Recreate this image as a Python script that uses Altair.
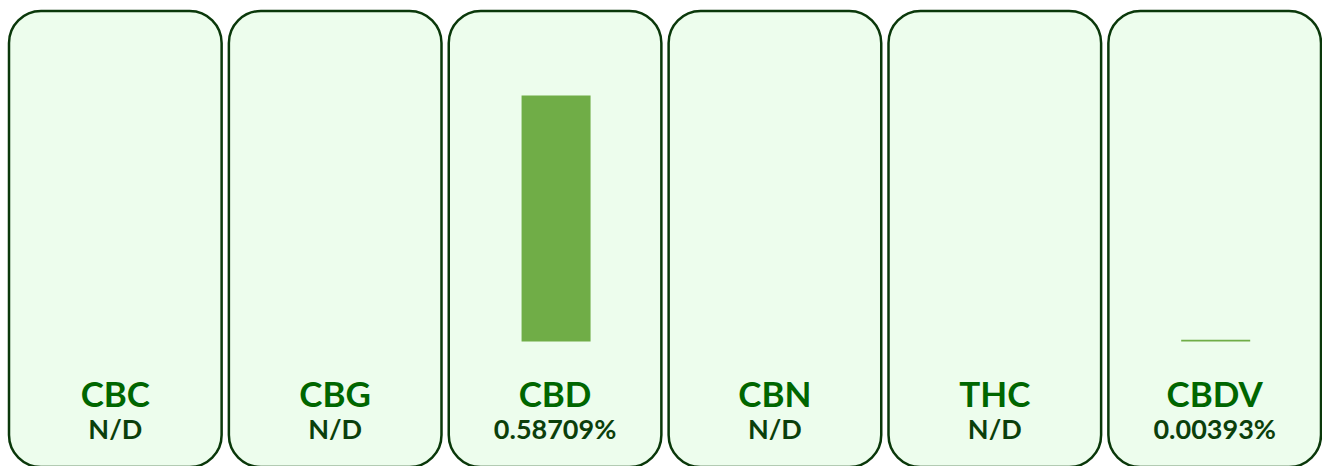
import altair as alt
import pandas as pd

names = ["CBC", "CBG", "CBD", "CBN", "THC", "CBDV"]
values = [None, None, 0.58709, None, None, 0.00393]
value_labels = ["N/D", "N/D", "0.58709%", "N/D", "N/D", "0.00393%"]

df = pd.DataFrame({"name": names, "value": values, "label": value_labels})

FONT = "Lato"

x = alt.X(
    "name:N",
    sort=names,
    axis=None,
    scale=alt.Scale(range=[9, 1321], paddingInner=0.033, paddingOuter=0),
)
yscale = alt.Scale(domain=[-0.2971, 0.8150], nice=False, zero=False)

panels = alt.Chart(df).mark_bar(
    cornerRadius=32,
    fill="#EDFDED",
    stroke="#0a380a",
    strokeWidth=2.5,
).encode(x=x, y=alt.value(11), y2=alt.value(467))

bars = alt.Chart(df).mark_bar(color="#70AD47", width=69, xOffset=1).encode(
    x=x,
    y=alt.Y("value:Q", scale=yscale, axis=None),
    y2=alt.datum(0),
)

names_text = alt.Chart(df).mark_text(
    font=FONT, fontSize=35, fontWeight="bold", color="#006600",
    baseline="alphabetic", align="center",
).encode(x=x, y=alt.value(407), text="name:N")

vals_text = alt.Chart(df).mark_text(
    font=FONT, fontSize=27, fontWeight="bold", color="#0b3f0b",
    baseline="alphabetic", align="center",
).encode(x=x, y=alt.value(439), text="label:N")

chart = alt.layer(panels, bars, names_text, vals_text).properties(
    width=1322, height=466,
    autosize=alt.AutoSizeParams(type="none"),
    padding=0,
    background="white",
).configure_view(stroke=None)

chart.save("out.html", embed_options={"renderer": "svg", "actions": False})
